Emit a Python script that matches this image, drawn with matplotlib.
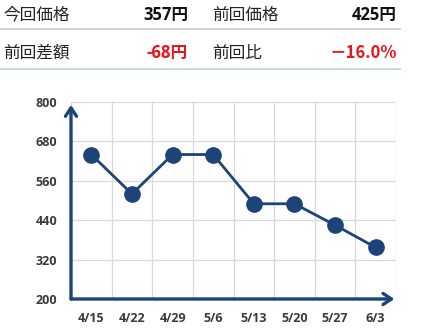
import matplotlib
matplotlib.use("Agg")
import matplotlib.pyplot as plt

plt.rcParams['font.family'] = ['Noto Sans CJK JP', 'DejaVu Sans']

dates = ["4/15", "4/22", "4/29", "5/6", "5/13", "5/20", "5/27", "6/3"]
prices = [640, 520, 640, 640, 490, 490, 425, 357]
yticks = [200, 320, 440, 560, 680, 800]

header_labels = ["今回価格", "前回価格", "前回差額", "前回比"]
header_values = ["357円", "425円", "-68円", "－16.0%"]

W, H = 428, 334
fig = plt.figure(figsize=(W / 100, H / 100), dpi=100)

navy = "#1d4478"
numfam = ['Open Sans', 'Noto Sans CJK JP']

def fx(x):
    return x / W
def fy(y):
    return 1 - y / H

fs = 12
fig.text(fx(3), fy(15), header_labels[0], fontsize=fs, color="#222222", va="center", ha="left")
fig.text(fx(188), fy(15), header_values[0], fontsize=fs, color="#111111", va="center", ha="right", fontweight="bold", family=numfam)
fig.text(fx(212), fy(15), header_labels[1], fontsize=fs, color="#222222", va="center", ha="left")
fig.text(fx(397), fy(15), header_values[1], fontsize=fs, color="#111111", va="center", ha="right", fontweight="bold", family=numfam)
fig.text(fx(3), fy(53), header_labels[2], fontsize=fs, color="#222222", va="center", ha="left")
fig.text(fx(188), fy(53), header_values[2], fontsize=fs, color="#e8141e", va="center", ha="right", fontweight="bold", family=numfam)
fig.text(fx(212), fy(53), header_labels[3], fontsize=fs, color="#222222", va="center", ha="left")
fig.text(fx(397), fy(53), header_values[3], fontsize=fs, color="#e8141e", va="center", ha="right", fontweight="bold", family=['Noto Sans CJK JP'])

fig.add_artist(plt.Line2D([0, fx(400)], [fy(28.5), fy(28.5)], color="#cccccc", lw=1.2))
fig.add_artist(plt.Line2D([0, fx(400)], [fy(68.5), fy(68.5)], color="#b8cfe8", lw=1.2))

ax = fig.add_axes([71 / W, 1 - 299 / H, (396 - 71) / W, (299 - 102) / H])
x = list(range(len(dates)))
ax.plot(x, prices, color=navy, lw=2, marker="o", markersize=11, zorder=5, clip_on=False)
ax.set_xlim(-0.5, len(dates) - 0.5)
ax.set_ylim(yticks[0], yticks[-1])
ax.set_yticks(yticks)
ax.set_xticks(x)
ax.set_xticklabels(dates)
ax.grid(False)
for xv in [i + 0.5 for i in range(-1, len(dates))]:
    ax.axvline(xv, color="#d8d8d8", lw=0.9, zorder=0)
for yv in yticks:
    ax.axhline(yv, color="#d8d8d8", lw=0.9, zorder=0)
for s in ax.spines.values():
    s.set_visible(False)
ax.tick_params(axis="both", which="both", length=0, labelsize=9, colors="#333333")
ax.tick_params(axis="x", pad=9)
ax.tick_params(axis="y", pad=10)
for lab in ax.get_xticklabels() + ax.get_yticklabels():
    lab.set_fontweight("bold")
    lab.set_family(['Open Sans'])
    lab.set_color("#3a3a3a")

ax.annotate("", xy=(0, 0.985), xytext=(0, 0), xycoords="axes fraction",
            arrowprops=dict(arrowstyle="->,head_length=0.6,head_width=0.4", color=navy, lw=2.4,
                            shrinkA=0, shrinkB=0), annotation_clip=False)
ax.annotate("", xy=(0.995, 0), xytext=(0, 0), xycoords="axes fraction",
            arrowprops=dict(arrowstyle="->,head_length=0.6,head_width=0.4", color=navy, lw=2.4,
                            shrinkA=0, shrinkB=0), annotation_clip=False)

fig.savefig("out.png", dpi=100, facecolor="white")
